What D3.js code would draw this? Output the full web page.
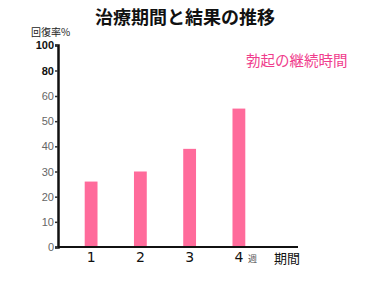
<!DOCTYPE html>
<html>
<head>
<meta charset="utf-8">
<script src="https://cdn.jsdelivr.net/npm/d3@7"></script>
<style>
  body { margin: 0; background: #fff; }
  svg { display: block; font-family: "Noto Sans CJK JP", "Noto Sans", sans-serif; }
</style>
</head>
<body>
<div id="vis"></div>
<script>
const layout = {
    width: 370,
    height: 300,
    left: 58,
    right: 298,
    top: 45,
    bottom: 247
};

// data
const weeks = ["1", "2", "3", "4"];
const recovery = [26, 30, 39, 55];
const yTicks = [0, 10, 20, 30, 40, 50, 60, 80, 100];

let svg = d3.select("#vis").append("svg")
    .attr("width", layout.width)
    .attr("height", layout.height);

// the hand drawn axis is uneven above 60
let yScale = d3.scaleLinear()
    .domain([0, 60, 100])
    .range([layout.bottom, 96, layout.top]);

let xScale = d3.scaleBand()
    .domain(weeks)
    .range([65, 265])
    .paddingInner(0.74)
    .paddingOuter(0.4);

// bars
svg.append("g").selectAll("rect")
    .data(recovery)
    .join("rect")
    .attr("x", (d, i) => xScale(weeks[i]))
    .attr("y", d => yScale(d))
    .attr("width", xScale.bandwidth())
    .attr("height", d => layout.bottom - yScale(d))
    .attr("fill", "#ff6b9b");

// y axis
let yAxis = svg.append("g")
    .attr("transform", `translate(${layout.left},0)`)
    .call(d3.axisLeft(yScale).tickValues(yTicks).tickSize(3).tickPadding(1));
yAxis.select(".domain").attr("stroke", "#111").attr("stroke-width", 2.5);
yAxis.selectAll("line").attr("stroke", "#333").attr("stroke-width", 1.5);
yAxis.selectAll("text")
    .attr("font-size", 11)
    .attr("fill", d => d >= 80 ? "#111" : "#666")
    .attr("font-weight", d => d >= 80 ? "bold" : "normal");

// x axis
let xAxis = svg.append("g")
    .attr("transform", `translate(0,${layout.bottom})`)
    .call(d3.axisBottom(xScale).tickSize(0).tickPadding(5));
xAxis.select(".domain")
    .attr("d", `M${layout.left},0H${layout.right}`)
    .attr("stroke", "#111")
    .attr("stroke-width", 2);
xAxis.selectAll("text")
    .attr("font-size", 14)
    .attr("font-family", "DejaVu Sans")
    .attr("fill", "#111");

// texts
svg.append("text")
    .attr("x", 185).attr("y", 24)
    .attr("text-anchor", "middle")
    .attr("font-size", 18)
    .attr("font-weight", "bold")
    .attr("fill", "#111")
    .text("治療期間と結果の推移");

svg.append("text")
    .attr("x", 31).attr("y", 36)
    .attr("font-size", 10)
    .attr("fill", "#222")
    .text("回復率%");

svg.append("text")
    .attr("x", 246).attr("y", 66)
    .attr("font-size", 14.5)
    .attr("fill", "#f03c8c")
    .text("勃起の継続時間");

svg.append("text")
    .attr("x", 248).attr("y", 262)
    .attr("font-size", 9)
    .attr("fill", "#555")
    .text("週");

svg.append("text")
    .attr("x", 287).attr("y", 263)
    .attr("text-anchor", "middle")
    .attr("font-size", 13)
    .attr("fill", "#111")
    .text("期間");
</script>
</body>
</html>
